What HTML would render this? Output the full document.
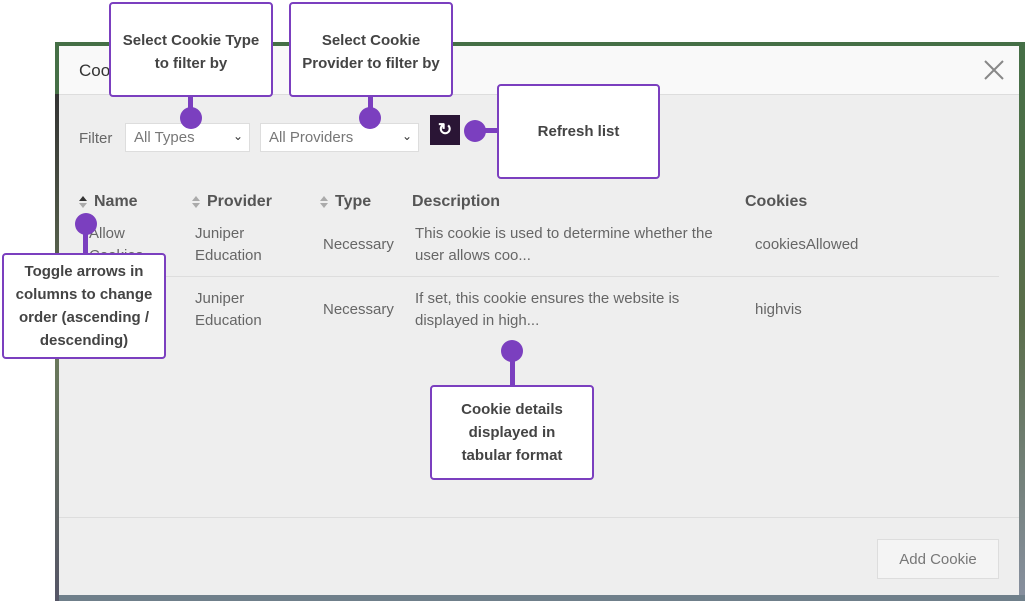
<!DOCTYPE html>
<html><head><meta charset="utf-8"><style>
body{margin:0;width:1025px;height:601px;position:relative;overflow:hidden;background:#fff;font-family:"Liberation Sans",sans-serif;}
.a{position:absolute;}
.t{color:#666;font-size:15px;}
.h{color:#555;font-size:16px;font-weight:bold;}
.call{position:absolute;background:#fff;border:2px solid #7b3fbf;border-radius:4px;box-sizing:border-box;color:#444;font-weight:bold;font-size:15px;text-align:center;line-height:23px;display:flex;align-items:center;justify-content:center;}
.dot{position:absolute;width:22px;height:22px;border-radius:50%;background:#7b3fbf;}
.ln{position:absolute;background:#7b3fbf;}
.sel{position:absolute;background:#fff;border:1px solid #ddd;height:29px;box-sizing:border-box;color:#777;font-size:15px;line-height:28px;padding-left:8px;}
.sort{position:absolute;width:0;height:0;}
.up{border-left:4px solid transparent;border-right:4px solid transparent;border-bottom:5px solid #aaa;}
.dn{border-left:4px solid transparent;border-right:4px solid transparent;border-top:5px solid #aaa;}
</style></head><body>
<div class="a" style="left:55px;top:42px;width:970px;height:559px;background:#456f46"></div>
<div class="a" style="left:55px;top:94px;width:4px;height:507px;background:linear-gradient(#333,#6a7a5a,#556)"></div>
<div class="a" style="left:1019px;top:42px;width:6px;height:559px;background:linear-gradient(#456f46,#5b6e4b,#8890a0)"></div>
<div class="a" style="left:59px;top:595px;width:966px;height:6px;background:#6f7f8a"></div>
<div class="a" style="left:59px;top:46px;width:960px;height:48px;background:#f9f9f9;border-bottom:1px solid #ddd"></div>
<div class="a" style="left:59px;top:95px;width:960px;height:500px;background:#eee"></div>
<div class="a" style="left:79px;top:61px;font-size:17px;color:#333">Cookies</div>
<svg class="a" style="left:984px;top:60px" width="20" height="20"><path d="M1 1L19 19M19 1L1 19" stroke="#888" stroke-width="2"/></svg>
<div class="a t" style="left:79px;top:130px">Filter</div>
<div class="sel" style="left:125px;top:123px;width:125px">All Types<span style="position:absolute;right:6px;top:-2px;font-size:12px;color:#333">⌄</span></div>
<div class="sel" style="left:260px;top:123px;width:159px">All Providers<span style="position:absolute;right:6px;top:-2px;font-size:12px;color:#333">⌄</span></div>
<div class="a" style="left:430px;top:115px;width:30px;height:30px;background:#2a1535;color:#fff;font-size:17px;text-align:center;line-height:30px;font-weight:bold">↻</div>

<div class="sort up" style="left:79px;top:196px;border-bottom-color:#333"></div><div class="sort dn" style="left:79px;top:203px"></div>
<div class="a h" style="left:94px;top:193px">Name</div>
<div class="sort up" style="left:192px;top:196px"></div><div class="sort dn" style="left:192px;top:203px"></div>
<div class="a h" style="left:207px;top:193px">Provider</div>
<div class="sort up" style="left:320px;top:196px"></div><div class="sort dn" style="left:320px;top:203px"></div>
<div class="a h" style="left:335px;top:193px">Type</div>
<div class="a h" style="left:412px;top:193px">Description</div>
<div class="a h" style="left:745px;top:193px">Cookies</div>
<div class="a t" style="left:89px;top:223px;line-height:22px">Allow<br>Cookies</div>
<div class="a t" style="left:195px;top:223px;line-height:22px">Juniper<br>Education</div>
<div class="a t" style="left:323px;top:236px">Necessary</div>
<div class="a t" style="left:415px;top:223px;line-height:22px">This cookie is used to determine whether the<br>user allows coo...</div>
<div class="a t" style="left:755px;top:236px">cookiesAllowed</div>
<div class="a" style="left:79px;top:276px;width:920px;height:1px;background:#ddd"></div>
<div class="a t" style="left:195px;top:288px;line-height:22px">Juniper<br>Education</div>
<div class="a t" style="left:323px;top:301px">Necessary</div>
<div class="a t" style="left:415px;top:288px;line-height:22px">If set, this cookie ensures the website is<br>displayed in high...</div>
<div class="a t" style="left:755px;top:301px">highvis</div>
<div class="a" style="left:59px;top:517px;width:960px;height:1px;background:#ddd"></div>
<div class="a" style="left:877px;top:539px;width:122px;height:40px;box-sizing:border-box;border:1px solid #ddd;background:#f4f4f4;color:#777;font-size:15px;text-align:center;line-height:40px">Add Cookie</div>

<div class="ln" style="left:188px;top:95px;width:5px;height:20px"></div><div class="dot" style="left:180px;top:107px"></div>
<div class="call" style="left:109px;top:2px;width:164px;height:95px;align-items:flex-start;padding-top:25px">Select Cookie Type<br>to filter by</div>
<div class="ln" style="left:368px;top:95px;width:5px;height:20px"></div><div class="dot" style="left:359px;top:107px"></div>
<div class="call" style="left:289px;top:2px;width:164px;height:95px;align-items:flex-start;padding-top:25px">Select Cookie<br>Provider to filter by</div>
<div class="ln" style="left:475px;top:128px;width:25px;height:5px"></div><div class="dot" style="left:464px;top:120px"></div>
<div class="call" style="left:497px;top:84px;width:163px;height:95px">Refresh list</div>
<div class="ln" style="left:83px;top:222px;width:5px;height:35px"></div><div class="dot" style="left:75px;top:213px"></div>
<div class="call" style="left:2px;top:253px;width:164px;height:106px">Toggle arrows in<br>columns to change<br>order (ascending /<br>descending)</div>
<div class="ln" style="left:510px;top:352px;width:5px;height:36px"></div><div class="dot" style="left:501px;top:340px"></div>
<div class="call" style="left:430px;top:385px;width:164px;height:95px">Cookie details<br>displayed in<br>tabular format</div>
</body></html>
